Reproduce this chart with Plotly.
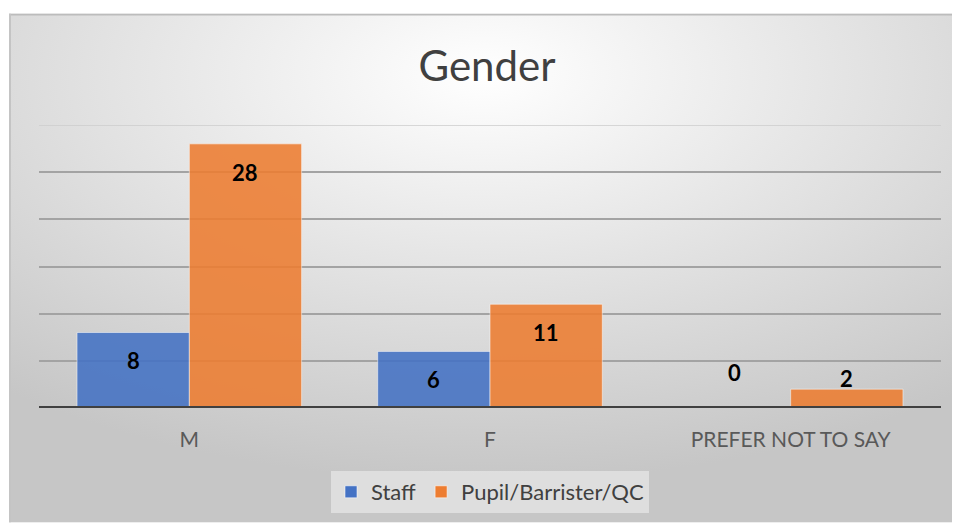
import base64
import plotly.graph_objects as go

categories = ["M", "F", "PREFER NOT TO SAY"]
staff = [8, 6, 0]
pupil = [28, 11, 2]
series_names = ["Staff", "Pupil/Barrister/QC"]
title_text = "Gender"

# page body has an 8px margin, so the figure is 8px smaller
W, H = 952, 516
ML, MR, MT, MB = 31, 19, 117, 115
PW, PH = W - ML - MR, H - MT - MB
YMAX = 30

# gradient background as svg
bx, by = 1, 5
bw, bh = W - bx, H - by
svg = (
    f'<svg xmlns="http://www.w3.org/2000/svg" width="{bw}" height="{bh}" '
    f'viewBox="0 0 {bw} {bh}" preserveAspectRatio="none">'
    '<defs><radialGradient id="g" cx="0.5" cy="0.12" r="0.8">'
    '<stop offset="0" stop-color="#ffffff"/><stop offset="1" stop-color="#c6c6c6"/>'
    '</radialGradient></defs>'
    f'<rect width="{bw}" height="{bh}" fill="url(#g)"/>'
    f'<line x1="0" y1="1" x2="{bw}" y2="1" stroke="#bcbcbc" stroke-width="2"/>'
    f'<line x1="1" y1="0" x2="1" y2="{bh}" stroke="#c4c4c4" stroke-width="2"/>'
    '</svg>'
)
src = "data:image/svg+xml;base64," + base64.b64encode(svg.encode()).decode()

fig = go.Figure()
fig.add_trace(go.Bar(
    name=series_names[0], x=categories, y=staff,
    marker=dict(color="#4472c4", opacity=0.88,
                line=dict(color="rgba(255,255,255,0.55)", width=1)),
))
fig.add_trace(go.Bar(
    name=series_names[1], x=categories, y=pupil,
    marker=dict(color="#ed7d31", opacity=0.88,
                line=dict(color="rgba(255,255,255,0.55)", width=1)),
))

# data labels
half = PW / len(categories) * (1 - 0.253) / 4
annotations = []
for vals, sign in ((staff, -1), (pupil, 1)):
    for c, v in zip(categories, vals):
        yv = v - 3 if v >= 6 else (3.1 if v > 0 else 3.8)
        annotations.append(dict(
            x=c, y=yv, xref="x", yref="y", text=f"<b>{v}</b>", showarrow=False,
            xshift=sign * half, yshift=0,
            font=dict(family="Lato, Liberation Sans, sans-serif", size=22, color="#000000"),
        ))

fig.update_layout(
    width=W, height=H,
    margin=dict(l=ML, r=MR, t=MT, b=MB),
    paper_bgcolor="#ffffff",
    plot_bgcolor="rgba(0,0,0,0)",
    barmode="group", bargap=0.253, bargroupgap=0.0,
    font=dict(family="Lato, Liberation Sans, sans-serif", color="#595959"),
    title=dict(text=title_text, x=(487 - 8) / W, xanchor="center", y=1 - 58 / H, yanchor="middle",
               font=dict(size=42, color="#404040")),
    xaxis=dict(showgrid=False, zeroline=False, showline=False, ticks="",
               tickfont=dict(size=21, color="#595959"), ticklabelstandoff=17),
    yaxis=dict(range=[0, YMAX], tick0=0, dtick=5, showticklabels=False, ticks="",
               showgrid=True, gridcolor="#a3a3a3", gridwidth=1.5,
               zeroline=False, showline=False),
    legend=dict(orientation="h", x=(490 - 8 - ML) / PW, xanchor="center",
                y=-(471 - 409) / PH, yanchor="top",
                bgcolor="rgba(232,232,232,0.7)", font=dict(size=22, color="#404040"),
                itemwidth=30, tracegroupgap=0),
    annotations=annotations,
    images=[dict(source=src, xref="paper", yref="paper",
                 x=(bx - ML) / PW, y=(H - MB - by) / PH, sizex=bw / PW, sizey=bh / PH,
                 xanchor="left", yanchor="top", sizing="stretch", layer="below")],
    shapes=[
        dict(type="line", xref="paper", yref="y", x0=0, x1=1, y0=YMAX, y1=YMAX,
             line=dict(color="#cdcdcd", width=1.5), layer="below"),
        dict(type="line", xref="paper", yref="y", x0=0, x1=1, y0=0, y1=0,
             line=dict(color="#404040", width=4), layer="above"),
    ],
)

fig.write_html("out.html")
